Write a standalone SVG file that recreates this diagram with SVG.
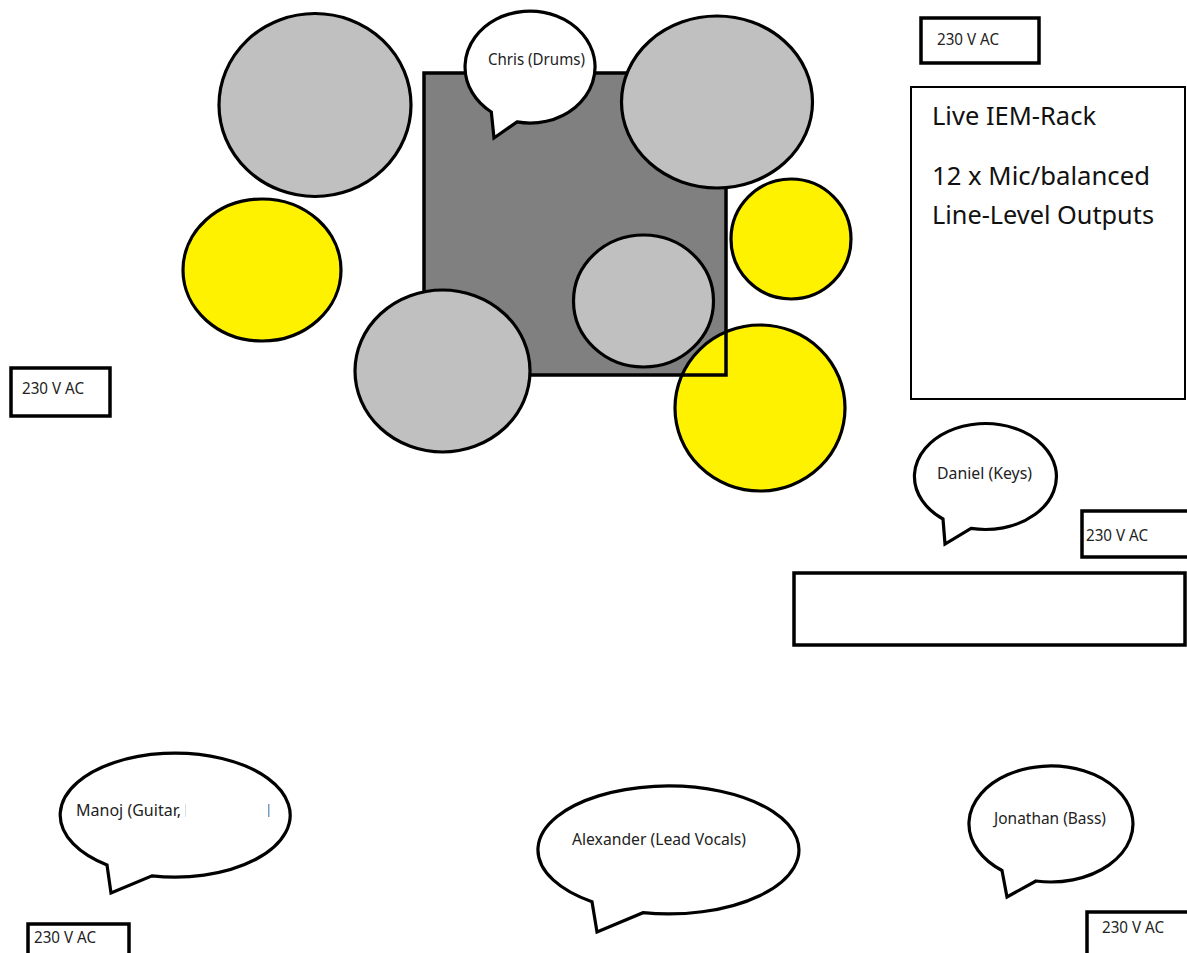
<svg xmlns="http://www.w3.org/2000/svg" width="1187" height="953" viewBox="0 0 1187 953">
<style>
.s{stroke:#000;stroke-width:3.5;stroke-linejoin:miter}
.t{stroke:#000;stroke-width:3.2;fill:#fff;stroke-linejoin:miter}
.g{fill:#c0c0c0;stroke:#000;stroke-width:3.2}
.y{fill:#fff200;stroke:#000;stroke-width:3.2}
text{font-family:"Noto Sans","Open Sans","Liberation Sans",sans-serif;fill:#222}
.sm{font-size:15.5px}
.lg{font-size:25.4px;fill:#111}
</style>
<rect width="1187" height="953" fill="#fff"/>
<g id="stage-riser"><rect class="s" x="424" y="73" width="302" height="302" fill="#808080"/></g>
<g id="cymbal-1"><ellipse class="g" cx="315" cy="105" rx="96" ry="91.500"/></g>
<g id="cymbal-2"><ellipse class="g" cx="717" cy="102" rx="95.500" ry="86"/></g>
<g id="cymbal-3"><ellipse class="g" cx="442.500" cy="371" rx="87.500" ry="81"/></g>
<g id="cymbal-4"><ellipse class="g" cx="643.500" cy="301" rx="70" ry="66"/></g>
<g id="yellow-1"><ellipse class="y" cx="262" cy="270" rx="79" ry="71"/></g>
<g id="yellow-2"><ellipse class="y" cx="791" cy="239" rx="60" ry="60"/></g>
<g id="yellow-3"><ellipse class="y" cx="760" cy="408" rx="85" ry="83"/>
<path d="M726,332V375H682" fill="none" stroke="#000" stroke-width="3.500"/></g>
<g id="bubble-chris"><path class="t" d="M517,121.900A65,56 0 1 0 491.300,112L494,138Z"/><text class="sm" x="488" y="65" textLength="97" lengthAdjust="spacingAndGlyphs">Chris (Drums)</text></g>
<g id="bubble-daniel"><path class="t" d="M971,528.400A71,53 0 1 0 943,519L945,544Z"/><text class="sm" x="937" y="479" textLength="95" lengthAdjust="spacingAndGlyphs">Daniel (Keys)</text></g>
<g id="bubble-manoj"><path class="t" d="M152,875.800A115,62 0 1 0 107,865L111,893Z"/><text class="sm" x="76" y="816" textLength="105" lengthAdjust="spacingAndGlyphs">Manoj (Guitar,</text><rect x="185" y="804" width="1" height="13" fill="#d5dde5"/><rect x="268" y="804" width="1.5" height="13" fill="#7b9cc0"/></g>
<g id="bubble-alexander"><path class="t" d="M643,912.700A130.500,64 0 1 0 592,901.800L597,932Z"/><text class="sm" x="572" y="845" textLength="174" lengthAdjust="spacingAndGlyphs">Alexander (Lead Vocals)</text></g>
<g id="bubble-jonathan"><path class="t" d="M1036,881A82,58 0 1 0 1002,870.500L1007,897Z"/><text class="sm" x="994" y="824" textLength="112" lengthAdjust="spacingAndGlyphs">Jonathan (Bass)</text></g>
<g id="power-top"><rect class="s" x="921" y="18" width="118" height="45" fill="#fff"/><text class="sm" x="937" y="45" textLength="62" lengthAdjust="spacingAndGlyphs">230 V AC</text></g>
<g id="power-left"><rect class="s" x="11" y="368" width="99" height="48" fill="#fff"/><text class="sm" x="22" y="394" textLength="62" lengthAdjust="spacingAndGlyphs">230 V AC</text></g>
<g id="power-right"><rect class="s" x="1082" y="511" width="110" height="46" fill="#fff"/><text class="sm" x="1086" y="541" textLength="62" lengthAdjust="spacingAndGlyphs">230 V AC</text></g>
<g id="power-bottom-left"><rect class="s" x="28" y="924" width="101" height="40" fill="#fff"/><text class="sm" x="34" y="943" textLength="62" lengthAdjust="spacingAndGlyphs">230 V AC</text></g>
<g id="power-bottom-right"><rect class="s" x="1087" y="912" width="110" height="50" fill="#fff"/><text class="sm" x="1102" y="933" textLength="62" lengthAdjust="spacingAndGlyphs">230 V AC</text></g>
<g id="iem-rack"><rect x="911" y="87" width="274" height="312" fill="#fff" stroke="#000" stroke-width="2"/>
<text class="lg" x="932" y="125" textLength="164" lengthAdjust="spacingAndGlyphs">Live IEM-Rack</text><text class="lg" x="932" y="185" textLength="218" lengthAdjust="spacingAndGlyphs">12 x Mic/balanced</text><text class="lg" x="932" y="224" textLength="222" lengthAdjust="spacingAndGlyphs">Line-Level Outputs</text></g>
<g id="keyboard"><rect class="s" x="794" y="573" width="391" height="72" fill="#fff"/></g>
</svg>
